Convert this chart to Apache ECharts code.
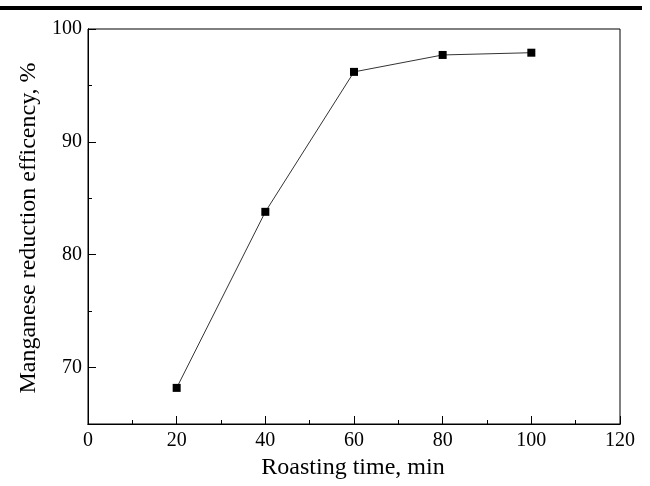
<!DOCTYPE html>
<html>
<head>
<meta charset="utf-8">
<script src="https://cdn.jsdelivr.net/npm/echarts@6.0.0/dist/echarts.min.js"></script>
<style>
  html, body { margin: 0; padding: 0; background: #fff; }
  #main { width: 650px; height: 486px; }
</style>
</head>
<body>
<div id="main"></div>
<script>
// roasting time (min) vs Mn reduction efficiency (%)
var times = [20, 40, 60, 80, 100];
var efficiency = [68.2, 83.8, 96.2, 97.7, 97.9];
var xMajor = [0, 20, 40, 60, 80, 100, 120];
var xMinor = [10, 30, 50, 70, 90, 110];
var yMajor = [70, 80, 90, 100];
var yMinor = [75, 85, 95];

var font = 'Liberation Serif, Times New Roman, serif';

var chart = echarts.init(document.getElementById('main'));

function xAxisOf(ticks, len, showLabel) {
    return {
        type: 'value', min: 0, max: 120, position: 'bottom',
        axisLine: { show: true, lineStyle: { color: '#000', width: 1 } },
        axisTick: { show: true, inside: true, length: len, customValues: ticks, lineStyle: { color: '#000' } },
        axisLabel: { show: showLabel, customValues: xMajor, color: '#000', fontFamily: font, fontSize: 20, margin: 7 },
        splitLine: { show: false }
    };
}
function yAxisOf(ticks, len, showLabel) {
    return {
        type: 'value', min: 65, max: 100, position: 'left',
        axisLine: { show: true, lineStyle: { color: '#000', width: 1 } },
        axisTick: { show: true, inside: true, length: len, customValues: ticks, lineStyle: { color: '#000' } },
        axisLabel: { show: showLabel, customValues: yMajor, color: '#000', fontFamily: font, fontSize: 20, margin: 6 },
        splitLine: { show: false }
    };
}

chart.setOption({
    animation: false,
    graphic: [
        { type: 'rect', shape: { x: 0, y: 6, width: 642, height: 4 }, style: { fill: '#000' } },
        { type: 'text', x: 353, y: 468, style: { text: 'Roasting time, min', fill: '#000', font: '24px ' + font, align: 'center', verticalAlign: 'middle' } },
        { type: 'text', rotation: Math.PI / 2, x: 29, y: 228, style: { text: 'Manganese reduction efficency, %', fill: '#000', font: '24px ' + font, align: 'center', verticalAlign: 'middle' } }
    ],
    grid: { left: 88, top: 29, right: 30, bottom: 62, show: true, borderColor: '#000', borderWidth: 1, backgroundColor: 'transparent' },
    xAxis: [xAxisOf(xMajor, 8, true), xAxisOf(xMinor, 4, false)],
    yAxis: [yAxisOf(yMajor, 8, true), yAxisOf(yMinor, 4, false)],
    series: [{
        type: 'line',
        data: times.map(function (t, i) { return [t, efficiency[i]]; }),
        symbol: 'rect',
        symbolSize: 8,
        itemStyle: { color: '#000' },
        lineStyle: { color: '#333', width: 1 }
    }]
});
</script>
</body>
</html>
